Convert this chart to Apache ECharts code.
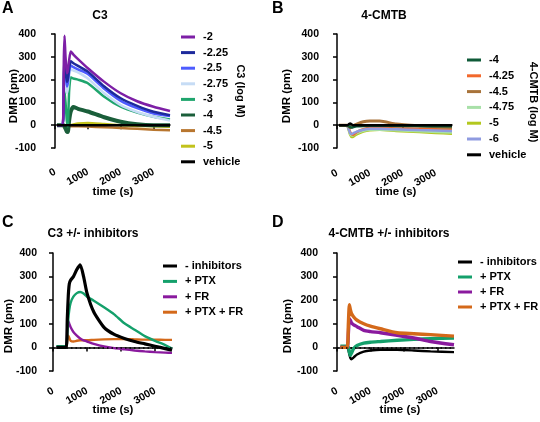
<!DOCTYPE html>
<html>
<head>
<meta charset="utf-8">
<script src="https://cdn.jsdelivr.net/npm/echarts@6/dist/echarts.min.js"></script>
<style>html,body{margin:0;padding:0;background:#fff}#c{width:540px;height:422px}</style>
</head>
<body>
<div id="c"></div>
<script>
// ---------- DATA ----------
const xTicks = [0, 1000, 2000, 3000];
const yTicks = [-100, 0, 100, 200, 300, 400];

// Panel A: C3 concentration response
const tA = [60, 230, 270, 290, 320, 360, 390, 430, 480, 560, 700, 1000, 1500, 2000, 2500, 3000, 3500];
const namesA = ['-2', '-2.25', '-2.5', '-2.75', '-3', '-4', '-4.5', '-5', 'vehicle'];
const a_m2    = [0, 0, 300, 392, 300, 228, 240, 285, 323, 310, 290, 250, 190, 140, 105, 81, 62];
const a_m225  = [0, 0, 220, 300, 250, 190, 200, 250, 280, 272, 260, 235, 170, 118, 85, 59, 44];
const a_m25   = [0, 0, 200, 280, 230, 170, 185, 235, 262, 255, 245, 225, 160, 107, 75, 51, 40];
const a_m275  = [0, 0, 150, 230, 190, 140, 160, 215, 245, 240, 232, 205, 140, 88, 58, 37, 20];
const a_m3    = [0, 0, 80, 150, 100, 20, -5, 150, 210, 205, 200, 184, 125, 81, 55, 37, 25];
const a_m4    = [0, 0, 0, -5, -15, -28, -30, 20, 60, 80, 72, 60, 35, 15, 4, 0, 0];
const a_m45   = [0, 0, -5, -8, -8, -8, -8, -6, -5, -5, -5, -6, -9, -12, -16, -20, -22];
const a_m5    = [0, 0, -8, -12, -15, -15, -12, -5, 0, 3, 7, 10, 5, 0, -3, -5, -7];
const a_veh   = [0, 0, 0, 0, 0, 0, 0, 0, 0, 0, 0, 0, 0, 0, 0, 0, 0];

// Panel B: 4-CMTB concentration response
const tB = [60, 300, 350, 400, 450, 500, 600, 800, 1000, 1300, 1800, 2500, 3000, 3500];
const namesB = ['-4', '-4.25', '-4.5', '-4.75', '-5', '-6', 'vehicle'];
const b_m4    = [0, 0, -3, -8, -10, -8, -5, -3, -2, -2, -3, -4, -5, -5];
const b_m425  = [0, 0, -10, -30, -40, -42, -30, -18, -12, -12, -14, -16, -18, -20];
const b_m45   = [0, 0, -5, -10, -8, -2, 5, 15, 18, 18, 5, -3, -7, -10];
const b_m475  = [0, 0, -15, -38, -45, -43, -35, -25, -20, -20, -22, -26, -30, -32];
const b_m5    = [0, 0, -18, -42, -52, -50, -40, -28, -22, -20, -25, -30, -34, -37];
const b_m6    = [0, 0, -15, -35, -38, -35, -28, -20, -16, -16, -18, -21, -23, -25];
const b_veh   = [0, 0, 3, 8, 3, 0, 0, 0, 0, 0, 0, 0, 0, 0];

// Panel C: C3 +/- inhibitors
const tC = [100, 300, 390, 420, 450, 480, 520, 600, 700, 800, 900, 1000, 1200, 1500, 1800, 2100, 2400, 2700, 3000, 3300, 3500];
const namesCD = ['- inhibitors', '+ PTX', '+ FR', '+ PTX + FR'];
const c_none  = [0, 0, 0, 120, 220, 270, 285, 300, 330, 350, 300, 230, 150, 85, 55, 38, 25, 15, 5, -5, -12];
const c_ptx   = [5, 5, 5, 60, 120, 160, 190, 215, 230, 235, 228, 215, 198, 170, 140, 102, 75, 48, 28, 10, -5];
const c_fr    = [0, 0, 0, 90, 112, 100, 85, 65, 50, 38, 30, 25, 15, 4, -3, -8, -13, -17, -20, -22, -23];
const c_both  = [0, 0, 0, 30, 50, 40, 28, 25, 28, 30, 30, 30, 32, 34, 35, 35, 34, 33, 33, 32, 32];

// Panel D: 4-CMTB +/- inhibitors
const tD = [100, 300, 340, 370, 400, 430, 500, 600, 800, 1000, 1300, 1800, 2300, 2800, 3500];
const d_none  = [0, 0, -10, -30, -45, -50, -42, -30, -18, -13, -10, -10, -13, -17, -20];
const d_ptx   = [5, 5, 0, -20, -34, -25, -5, 8, 18, 22, 25, 30, 34, 37, 40];
const d_fr    = [0, 0, 60, 121, 115, 105, 95, 88, 72, 67, 62, 51, 40, 25, 11];
const d_both  = [0, 0, 100, 181, 160, 145, 129, 115, 100, 90, 79, 62, 58, 54, 48];

// ---------- STYLE ----------
const FONT = 'Liberation Sans, Arial, Helvetica, sans-serif';
const colA = ['#7d1fa6', '#1d2a9c', '#4d5cff', '#c6dcf5', '#1fa56d', '#1a5e3a', '#b8762f', '#c2c21c', '#000000'];
const colB = ['#0f5a38', '#f2682c', '#a8733a', '#a8e0a8', '#b3c81e', '#8f9be0', '#000000'];
const colCD = ['#000000', '#14a06b', '#8a1a9e', '#d4691a'];

const grids = [
  {left: 55, top: 34, width: 115, height: 114},
  {left: 337, top: 34, width: 115, height: 114},
  {left: 53, top: 253, width: 119, height: 118},
  {left: 337, top: 253, width: 117, height: 118}
];
const yOff = [15, 14, 12, 15];
const xOff = [17, 18, 13, 13];

function xAxisFor(i) {
  return {
    type: 'value', gridIndex: i, min: 0, max: 3500, interval: 1000, offset: xOff[i],
    axisLine: {lineStyle: {color: '#000', width: 1.5}},
    axisTick: {length: 4, lineStyle: {color: '#000', width: 1.5}, customValues: xTicks},
    axisLabel: {customValues: xTicks, formatter: v => String(v), rotate: 30, margin: 6, color: '#000', fontWeight: 'bold', fontSize: 10.5, fontFamily: FONT},
    splitLine: {show: false}
  };
}
function yAxisFor(i) {
  return {
    type: 'value', gridIndex: i, min: -100, max: 400, interval: 100, offset: yOff[i],
    axisLine: {show: true, lineStyle: {color: '#000', width: 1.5}},
    axisTick: {show: true, length: 4, lineStyle: {color: '#000', width: 1.5}},
    axisLabel: {formatter: v => String(v), margin: 4, color: '#000', fontWeight: 'bold', fontSize: 10.5, fontFamily: FONT},
    splitLine: {show: false}
  };
}
function pairs(t, v) { return t.map((x, k) => [x, v[k]]); }
function mkSeries(name, tag, idx, t, v, color, width, extra) {
  return Object.assign({
    name: name + '|' + tag, type: 'line', xAxisIndex: idx, yAxisIndex: idx,
    data: pairs(t, v), symbol: 'none', smooth: 0.2, animation: false,
    lineStyle: {color: color, width: width}, itemStyle: {color: color}
  }, extra || {});
}

const series = [];
const valsA = [a_m2, a_m225, a_m25, a_m275, a_m3, a_m4, a_m45, a_m5, a_veh];
[7, 6, 5, 4, 3, 2, 1, 0, 8].forEach(k => series.push(mkSeries(namesA[k], 'A', 0, tA, valsA[k], colA[k], k === 5 ? 4 : 2.5)));
const valsB = [b_m4, b_m425, b_m45, b_m475, b_m5, b_m6, b_veh];
[4, 3, 1, 5, 2, 0, 6].forEach(k => series.push(mkSeries(namesB[k], 'B', 1, tB, valsB[k], colB[k], k === 2 ? 3 : 2.5)));
const valsC = [c_none, c_ptx, c_fr, c_both];
const zeroLine = {markLine: {silent: true, symbol: 'none', label: {show: false}, lineStyle: {color: '#000', type: [1.5, 3], width: 1.5}, data: [{yAxis: 0}]}};
[3, 2, 1, 0].forEach(k => series.push(mkSeries(namesCD[k], 'C', 2, tC, valsC[k], colCD[k], k === 0 ? 3.2 : 2.4, k === 3 ? zeroLine : null)));
const valsD = [d_none, d_ptx, d_fr, d_both];
[0, 1, 2, 3].forEach(k => series.push(mkSeries(namesCD[k], 'D', 3, tD, valsD[k], colCD[k], k === 0 ? 2.4 : 3.4, k === 0 ? zeroLine : null)));

function legendFor(names, tag, left, top, gap) {
  return {
    data: names.map(n => n + '|' + tag), orient: 'vertical', left: left, top: top,
    icon: 'rect', itemWidth: 14, itemHeight: 3, itemGap: gap, padding: 0,
    selectedMode: false,
    formatter: n => n.split('|')[0],
    textStyle: {color: '#000', fontWeight: 'bold', fontSize: 11, fontFamily: FONT, lineHeight: 12, padding: [0, 0, 0, 3]}
  };
}

function txt(x, y, s, size, rot, align) {
  return {type: 'text', x: x, y: y, rotation: rot || 0,
    style: {text: s, fill: '#000', font: 'bold ' + size + 'px ' + FONT, textAlign: align || 'center', textVerticalAlign: 'middle'}};
}

const option = {
  backgroundColor: '#fff',
  animation: false,
  grid: grids,
  xAxis: [0, 1, 2, 3].map(xAxisFor),
  yAxis: [0, 1, 2, 3].map(yAxisFor),
  legend: [
    legendFor(namesA, 'A', 181, 31, 3.6),
    legendFor(namesB, 'B', 467, 54, 3.8),
    legendFor(namesCD, 'C', 163, 260, 3.4),
    legendFor(namesCD, 'D', 458, 256, 3)
  ],
  series: series,
  graphic: [
    txt(2, 9, 'A', 16, 0, 'left'),
    txt(272, 9, 'B', 16, 0, 'left'),
    txt(2, 223, 'C', 16, 0, 'left'),
    txt(272, 223, 'D', 16, 0, 'left'),
    txt(100, 16, 'C3', 12),
    txt(384, 16, '4-CMTB', 12),
    txt(93, 234, 'C3 +/- inhibitors', 12),
    txt(389, 234, '4-CMTB +/- inhibitors', 12),
    txt(14, 96, 'DMR (pm)', 11.5, Math.PI / 2),
    txt(287, 96, 'DMR (pm)', 11.5, Math.PI / 2),
    txt(9, 326, 'DMR (pm)', 11.5, Math.PI / 2),
    txt(288, 326, 'DMR (pm)', 11.5, Math.PI / 2),
    txt(113, 192, 'time (s)', 11.5),
    txt(396, 192, 'time (s)', 11.5),
    txt(113, 410, 'time (s)', 11.5),
    txt(400, 410, 'time (s)', 11.5),
    txt(240, 91, 'C3 (log M)', 11, -Math.PI / 2),
    txt(533, 102, '4-CMTB (log M)', 11, -Math.PI / 2)
  ]
};
const chart = echarts.init(document.getElementById('c'), null, {renderer: 'canvas'});
chart.setOption(option);
</script>
</body>
</html>
